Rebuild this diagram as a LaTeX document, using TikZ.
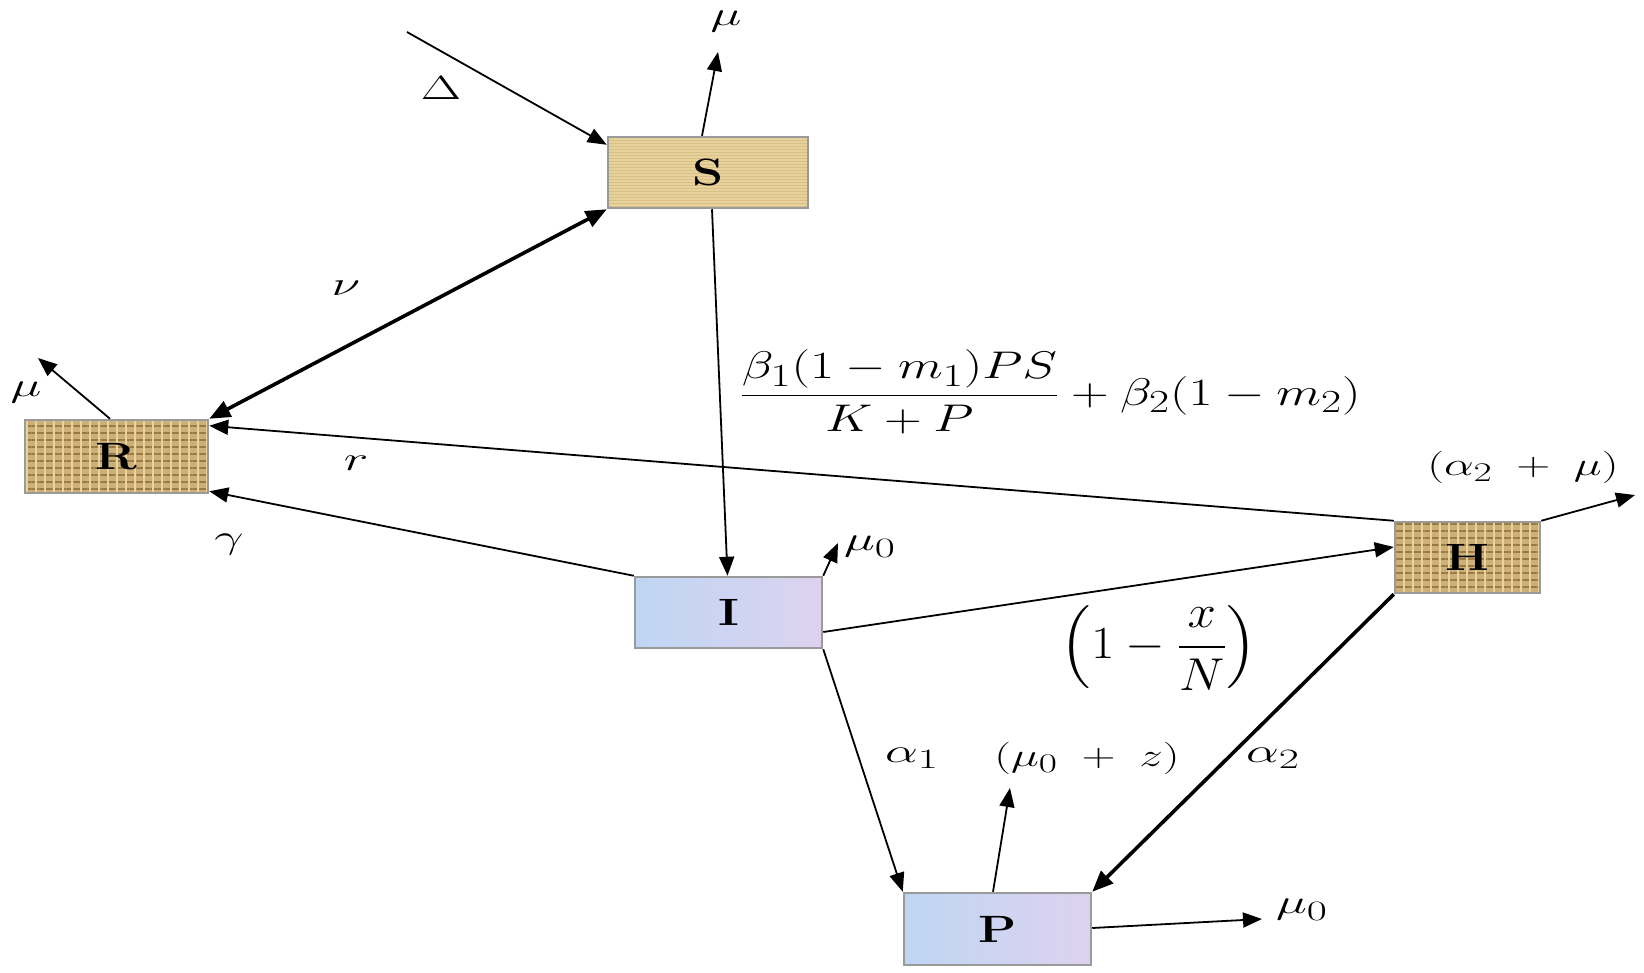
\documentclass[tikz,border=0pt]{standalone}
\usepackage{amsmath}
\usepackage{graphicx}
\usetikzlibrary{arrows.meta,patterns,patterns.meta}
\definecolor{woodS}{HTML}{E8D29C}
\definecolor{woodSd}{HTML}{D8C088}
\definecolor{burlap}{HTML}{CDB078}
\definecolor{burlapd}{HTML}{9A7A42}
\definecolor{burlapl}{HTML}{E6D3A0}
\definecolor{blueL}{HTML}{BED6F3}
\definecolor{blueR}{HTML}{DDD2EF}
\definecolor{boxedge}{HTML}{9A9A9A}
\newcommand\wlbl[1]{\scalebox{2.1}[1.35]{#1}}
\newcommand\boxlbl[1]{\scalebox{2.0}[1.53]{#1}}
\begin{document}
\begin{tikzpicture}[x=1pt,y=1pt,
  box/.style={rectangle, draw=boxedge, line width=2.5pt, inner sep=0pt,
    font=\Huge\bfseries},
  sbox/.style={box, preaction={fill=woodS}, pattern=horizontal lines, pattern color=woodSd},
  rbox/.style={box, preaction={fill=burlap},
    preaction={pattern={Lines[angle=0,distance=7pt,line width=2.2pt]}, pattern color=burlapd},
    pattern={Lines[angle=90,distance=9pt,line width=2.5pt]}, pattern color=burlapl},
  ibox/.style={box, left color=blueL, right color=blueR},
  arr/.style={line width=1.8pt, -{Triangle[length=19pt,width=15pt]}},
  barr/.style={line width=3.6pt, -{Triangle[length=21pt,width=17pt]}},
  lbl/.style={font=\Huge, inner sep=0pt}
]
\useasboundingbox (0,0) rectangle (1644,-972);

% compartments
\node[sbox, minimum width=200pt, minimum height=71pt] (S) at (708,-172.5) {\boxlbl{S}};
\node[rbox, minimum width=183pt, minimum height=73pt] (R) at (116.5,-456.5) {\boxlbl{R}};
\node[rbox, minimum width=145pt, minimum height=71pt] (H) at (1467.5,-557.5) {\boxlbl{H}};
\node[ibox, minimum width=187pt, minimum height=71pt] (I) at (728.5,-612.5) {\boxlbl{I}};
\node[ibox, minimum width=187pt, minimum height=72pt] (P) at (997.5,-929) {\boxlbl{P}};

% free ends
\coordinate (d0) at (407,-32);
\coordinate (muS) at (718,-52);
\coordinate (muR) at (38,-358);
\coordinate (muH) at (1635,-495);
\coordinate (muI) at (838,-543);
\coordinate (muPz) at (1010,-788);
\coordinate (muP) at (1262,-919);

% flows
\draw[arr] (d0) -- ([yshift=-9pt]S.north west);
\draw[arr] ([xshift=-6pt]S.north) -- (muS);
\draw[arr] ([xshift=4pt]S.south) -- ([xshift=-1pt]I.north);
\draw[barr, {Triangle[length=21pt,width=17pt]}-{Triangle[length=21pt,width=17pt]}] (R.north east) -- (S.south west);
\draw[arr] ([xshift=-6.5pt]R.north) -- (muR);
\draw[arr] (H.north west) -- ([yshift=-7pt]R.north east);
\draw[arr] (I.north west) -- ([yshift=3pt]R.south east);
\draw[arr] ([yshift=-19.5pt]I.east) -- ([yshift=10.5pt]H.west);
\draw[arr] (I.south east) -- (P.north west);
\draw[barr] (H.south west) -- (P.north east);
\draw[arr] (I.north east) -- (muI);
\draw[arr] (H.north east) -- (muH);
\draw[arr] ([xshift=-4.5pt]P.north) -- (muPz);
\draw[arr] ([yshift=1pt]P.east) -- (muP);

% labels
\node[lbl] (lDelta) at (441,-88) {\wlbl{$\Delta$}};
\node[lbl] (lmuS) at (726,-22) {\wlbl{$\mu$}};
\node[lbl] (lmuR) at (26,-393) {\wlbl{$\mu$}};
\node[lbl] (lnu) at (346,-288) {\wlbl{$\nu$}};
\node[lbl] (lr) at (356,-463) {\wlbl{$r$}};
\node[lbl] (lgamma) at (229,-545) {\wlbl{$\gamma$}};
\node[lbl] (lmuI) at (870,-547) {\wlbl{$\mu_0$}};
\node[lbl] (laH) at (1523,-467) {\scalebox{1.9}[1.3]{$(\alpha_2\;+\;\mu)$}};
\node[lbl] (lrate) at (1050,-392)
  {\scalebox{2.1}[1.55]{$\dfrac{\beta_1(1-m_1)PS}{K+P}+\beta_2(1-m_2)$}};
\node[lbl] (lfrac) at (1159,-648)
  {\scalebox{2.05}[1.85]{$\left(1-\dfrac{x}{N}\right)$}};
\node[lbl] (la1) at (912,-758) {\wlbl{$\alpha_1$}};
\node[lbl] (lmuz) at (1087,-758) {\scalebox{1.9}[1.3]{$(\mu_0\;+\;z)$}};
\node[lbl] (la2) at (1273,-758) {\wlbl{$\alpha_2$}};
\node[lbl] (lmuP) at (1302,-910) {\wlbl{$\mu_0$}};
\end{tikzpicture}
\end{document}
